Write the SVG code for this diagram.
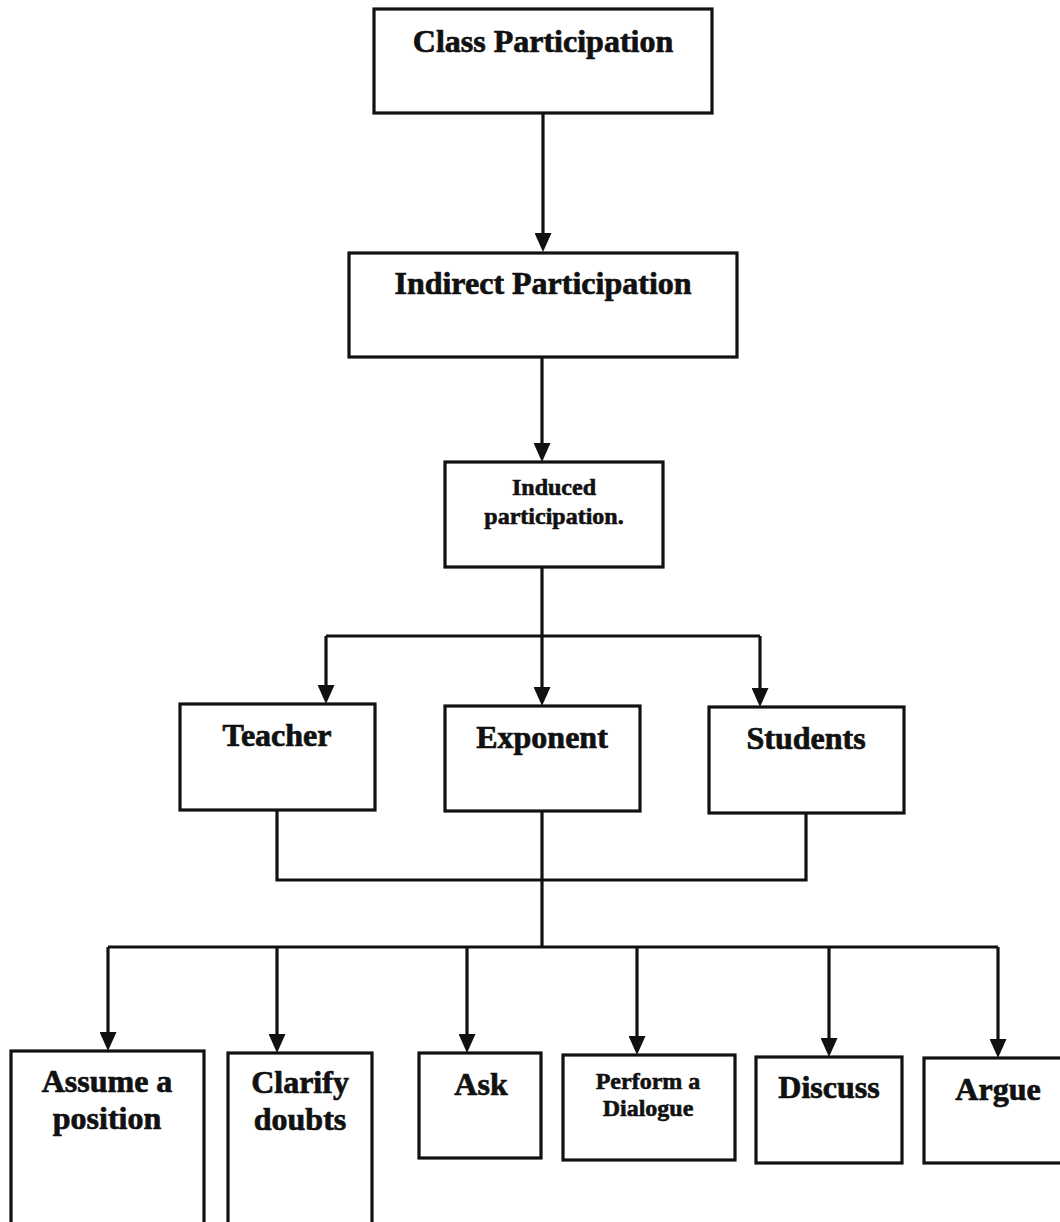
<svg xmlns="http://www.w3.org/2000/svg" width="1060" height="1222" viewBox="0 0 1060 1222">
  <style>
    .box { fill: #fff; stroke: #111; stroke-width: 3.2; }
    .wire { fill: none; stroke: #111; stroke-width: 3.2; }
    .lbl { font-family: "Liberation Serif", "Times New Roman", serif; font-weight: bold; font-size: 32px; fill: #111; stroke: #111; stroke-width: 0.7; text-anchor: middle; }
    .sm { font-size: 24px; stroke-width: 0.6; }
  </style>
  <defs>
    <!-- arrowhead tip sits 10px past the end of the line -->
    <marker id="arrow" markerUnits="userSpaceOnUse" markerWidth="19" markerHeight="17" viewBox="0 0 19 17" refX="9" refY="8.5" orient="auto">
      <path d="M0,0 L19,8.5 L0,17 z" fill="#111"/>
    </marker>
  </defs>
  <rect width="1060" height="1222" fill="#fff"/>

  <g id="connectors">
    <path class="wire" d="M543,113 V242" marker-end="url(#arrow)"/>
    <path class="wire" d="M542,357 V452" marker-end="url(#arrow)"/>
    <path class="wire" d="M542,567 V696" marker-end="url(#arrow)"/>
    <path class="wire" d="M326,636 H760"/>
    <path class="wire" d="M326,636 V694" marker-end="url(#arrow)"/>
    <path class="wire" d="M760,636 V697" marker-end="url(#arrow)"/>
    <path class="wire" d="M277,810 V880 H806 V813"/>
    <path class="wire" d="M542,811 V947"/>
    <path class="wire" d="M108,947 H998"/>
    <path class="wire" d="M108,947 V1041" marker-end="url(#arrow)"/>
    <path class="wire" d="M277,947 V1043" marker-end="url(#arrow)"/>
    <path class="wire" d="M467,947 V1043" marker-end="url(#arrow)"/>
    <path class="wire" d="M637,947 V1045" marker-end="url(#arrow)"/>
    <path class="wire" d="M829,947 V1047" marker-end="url(#arrow)"/>
    <path class="wire" d="M998,947 V1048" marker-end="url(#arrow)"/>
  </g>

  <g id="class-participation">
    <rect class="box" x="374" y="9" width="338" height="104"/>
    <text class="lbl" x="543" y="52">Class Participation</text>
  </g>
  <g id="indirect-participation">
    <rect class="box" x="349" y="253" width="388" height="104"/>
    <text class="lbl" x="543" y="294">Indirect Participation</text>
  </g>
  <g id="induced-participation">
    <rect class="box" x="445" y="462" width="218" height="105"/>
    <text class="lbl sm" x="554" y="495">Induced</text>
    <text class="lbl sm" x="554" y="524">participation.</text>
  </g>
  <g id="teacher">
    <rect class="box" x="180" y="704" width="195" height="106"/>
    <text class="lbl" x="277" y="746">Teacher</text>
  </g>
  <g id="exponent">
    <rect class="box" x="445" y="706" width="195" height="105"/>
    <text class="lbl" x="542" y="748">Exponent</text>
  </g>
  <g id="students">
    <rect class="box" x="709" y="707" width="195" height="106"/>
    <text class="lbl" x="806" y="749">Students</text>
  </g>
  <g id="assume-a-position">
    <rect class="box" x="11" y="1051" width="193" height="185"/>
    <text class="lbl" x="107" y="1092">Assume a</text>
    <text class="lbl" x="107" y="1129">position</text>
  </g>
  <g id="clarify-doubts">
    <rect class="box" x="228" y="1053" width="144" height="185"/>
    <text class="lbl" x="300" y="1093">Clarify</text>
    <text class="lbl" x="300" y="1130">doubts</text>
  </g>
  <g id="ask">
    <rect class="box" x="419" y="1053" width="122" height="105"/>
    <text class="lbl" x="481" y="1095">Ask</text>
  </g>
  <g id="perform-a-dialogue">
    <rect class="box" x="563" y="1055" width="172" height="105"/>
    <text class="lbl sm" x="648" y="1089">Perform a</text>
    <text class="lbl sm" x="648" y="1116">Dialogue</text>
  </g>
  <g id="discuss">
    <rect class="box" x="756" y="1057" width="146" height="106"/>
    <text class="lbl" x="829" y="1098">Discuss</text>
  </g>
  <g id="argue">
    <rect class="box" x="924" y="1058" width="150" height="105"/>
    <text class="lbl" x="998" y="1100">Argue</text>
  </g>
</svg>
